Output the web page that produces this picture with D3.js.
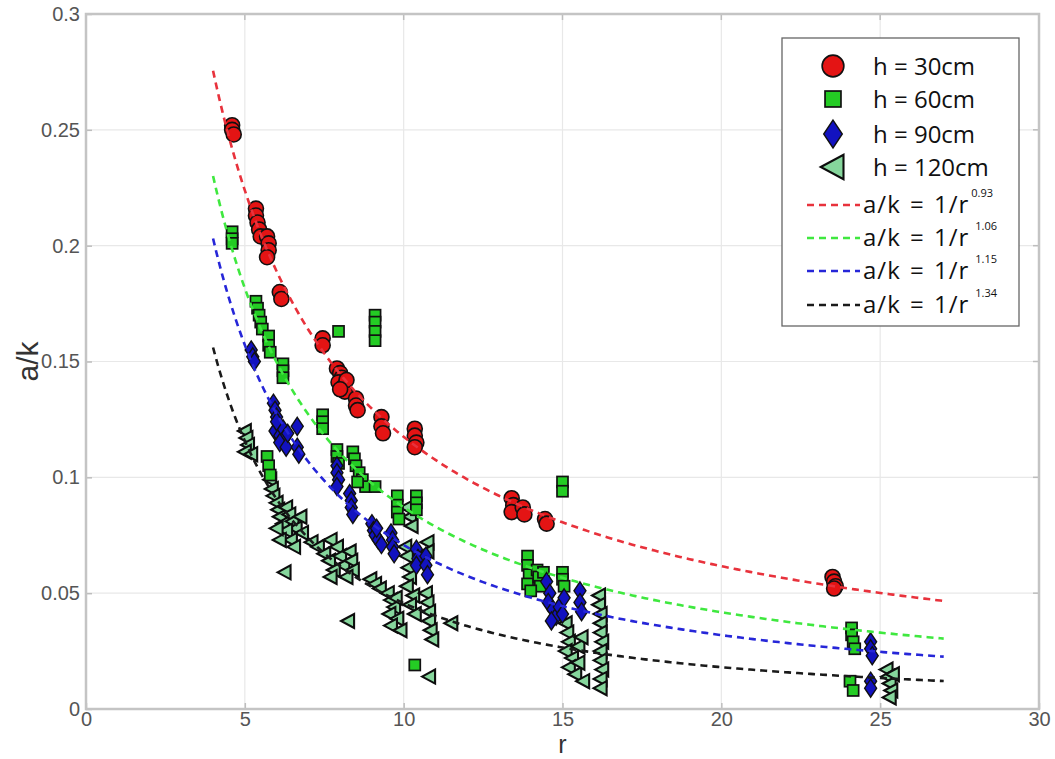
<!DOCTYPE html>
<html>
<head>
<meta charset="utf-8">
<script src="https://cdn.jsdelivr.net/npm/d3@7"></script>
<style>
  html, body { margin: 0; padding: 0; background: #fff; }
  svg { display: block; }
</style>
</head>
<body>
<svg id="chart" width="1055" height="759"></svg>
<script>
// Measured a/k against distance r, one list per height h: [r, a/k]
const h30 = [
  [4.6,0.252],[4.6,0.250],[4.65,0.248],
  [5.35,0.216],[5.35,0.213],[5.4,0.210],[5.45,0.207],[5.5,0.204],[5.7,0.204],[5.75,0.201],[5.75,0.198],[5.7,0.195],
  [6.1,0.180],[6.15,0.177],
  [7.45,0.160],[7.45,0.157],
  [7.9,0.147],[8.0,0.145],[8.05,0.143],[7.95,0.141],[8.1,0.139],[8.15,0.137],[8.2,0.142],[8.0,0.138],
  [8.5,0.134],[8.5,0.131],[8.55,0.129],
  [9.3,0.126],[9.3,0.122],[9.35,0.119],
  [10.35,0.121],[10.35,0.118],[10.4,0.115],[10.35,0.113],
  [13.4,0.091],[13.45,0.088],[13.4,0.085],[13.75,0.087],[13.8,0.084],[14.45,0.082],[14.5,0.080],
  [23.5,0.057],[23.55,0.055],[23.6,0.053],[23.55,0.052]
];
const h60 = [
  [4.6,0.206],[4.6,0.203],[4.6,0.201],
  [5.35,0.176],[5.4,0.173],[5.45,0.170],[5.5,0.167],[5.55,0.164],[5.75,0.161],[5.75,0.157],[5.8,0.154],
  [6.2,0.149],[6.2,0.146],[6.2,0.143],
  [5.7,0.109],[5.75,0.105],[5.8,0.101],
  [7.45,0.127],[7.45,0.124],[7.45,0.121],
  [7.95,0.163],
  [9.1,0.170],[9.1,0.167],[9.1,0.163],[9.1,0.159],
  [7.9,0.112],[7.9,0.109],[7.95,0.106],
  [8.4,0.111],[8.45,0.108],[8.5,0.105],[8.6,0.102],[8.7,0.099],[8.8,0.096],[8.55,0.098],
  [9.1,0.096],
  [9.8,0.092],[9.8,0.088],[9.8,0.085],[9.85,0.082],
  [10.4,0.092],[10.4,0.089],[10.4,0.086],
  [10.35,0.019],
  [15.0,0.098],[15.0,0.094],
  [13.9,0.066],[13.9,0.062],[13.95,0.058],[13.9,0.054],[14.2,0.060],[14.25,0.057],[14.3,0.053],[14.4,0.059],[14.0,0.051],
  [15.0,0.059],[15.0,0.056],[15.05,0.053],
  [24.1,0.035],[24.1,0.032],[24.15,0.029],[24.2,0.026],
  [24.05,0.012],[24.15,0.008]
];
const h90 = [
  [5.2,0.155],[5.25,0.152],[5.3,0.150],
  [5.9,0.132],[5.95,0.129],[6.0,0.126],[6.05,0.123],[5.95,0.120],[6.1,0.118],[6.2,0.121],[6.25,0.117],[6.1,0.115],[6.3,0.113],[6.0,0.124],[6.35,0.119],
  [6.65,0.122],[6.65,0.113],[6.7,0.110],
  [7.9,0.105],[7.9,0.102],[7.95,0.099],[7.9,0.096],
  [8.3,0.093],[8.35,0.090],[8.35,0.087],[8.4,0.084],
  [9.0,0.080],[9.05,0.077],[9.1,0.075],[9.2,0.073],[9.3,0.071],[9.15,0.078],
  [9.6,0.076],[9.65,0.073],[9.65,0.070],[9.7,0.067],
  [10.4,0.069],[10.45,0.065],[10.4,0.062],[10.7,0.066],[10.7,0.062],[10.75,0.058],
  [14.5,0.055],[14.6,0.050],[14.55,0.046],[14.7,0.043],[14.8,0.040],[14.9,0.044],[15.0,0.041],[15.05,0.048],[14.65,0.038],
  [15.55,0.051],[15.55,0.046],[15.6,0.042],
  [24.7,0.029],[24.7,0.026],[24.75,0.023],
  [24.7,0.012],[24.7,0.009]
];
const h120 = [
  [5.0,0.120],[5.05,0.117],[5.1,0.114],[5.0,0.111],[5.2,0.110],
  [5.8,0.099],[5.85,0.095],[5.9,0.092],[6.0,0.089],[6.05,0.086],[6.1,0.083],[6.2,0.080],[6.3,0.087],[6.4,0.084],[6.5,0.081],
  [6.6,0.078],[6.75,0.083],[6.8,0.076],[6.3,0.077],[6.45,0.073],[6.1,0.073],[6.0,0.078],[6.55,0.070],
  [6.25,0.059],
  [7.1,0.072],[7.3,0.070],[7.5,0.067],[7.7,0.073],[7.65,0.064],[7.9,0.070],[8.0,0.066],[8.1,0.062],[8.3,0.068],[8.35,0.064],
  [8.4,0.060],[7.8,0.060],[8.2,0.057],[7.7,0.057],
  [8.25,0.038],
  [8.95,0.056],[9.1,0.054],[9.25,0.052],
  [9.5,0.050],[9.6,0.047],[9.7,0.044],[9.55,0.041],[9.8,0.039],[9.6,0.036],[9.9,0.034],[9.75,0.048],
  [10.1,0.087],[10.2,0.083],[10.25,0.079],
  [10.05,0.070],[10.1,0.066],[10.15,0.061],[10.2,0.057],[10.1,0.053],[10.3,0.049],[10.2,0.045],[10.35,0.041],
  [10.75,0.072],[10.75,0.068],
  [10.7,0.050],[10.75,0.046],[10.8,0.042],[10.8,0.038],[10.85,0.034],[10.9,0.030],
  [10.8,0.014],
  [11.5,0.037],
  [15.1,0.037],[15.15,0.033],[15.2,0.029],[15.1,0.025],[15.3,0.022],[15.2,0.018],[15.4,0.015],[15.5,0.027],[15.6,0.031],[15.5,0.020],[15.65,0.012],
  [16.15,0.049],[16.15,0.045],[16.2,0.041],[16.2,0.037],[16.2,0.033],[16.25,0.029],[16.2,0.025],[16.2,0.021],[16.25,0.017],[16.2,0.013],[16.2,0.009],
  [25.2,0.017],[25.25,0.014],[25.3,0.011],[25.35,0.008],[25.4,0.015],[25.3,0.005]
];

// Power-law fits a/k = 1/r^p for each height, drawn over r in [4, 27]
const fitExponents = [0.93, 1.06, 1.15, 1.34];
const fitLabels = ["0.93", "1.06", "1.15", "1.34"];
const fitColors = ["#e8323c", "#3fe83f", "#2626d8", "#1a1a1a"];
const fitRange = [4, 27];

const seriesLabels = ["h = 30cm", "h = 60cm", "h = 90cm", "h = 120cm"];
const xTicks = [0, 5, 10, 15, 20, 25, 30];
const yTicks = [0, 0.05, 0.1, 0.15, 0.2, 0.25, 0.3];

const svg = d3.select("#chart");
const m = { left: 86, right: 1039, top: 14, bottom: 709 };
const x = d3.scaleLinear().domain([0, 30]).range([m.left, m.right]);
const y = d3.scaleLinear().domain([0, 0.3]).range([m.bottom, m.top]);

// grid
const grid = svg.append("g");
grid.selectAll("line.gx").data(xTicks.slice(1, -1)).join("line")
  .attr("x1", d => x(d)).attr("x2", d => x(d))
  .attr("y1", m.top).attr("y2", m.bottom)
  .attr("stroke", "#e8e8e8").attr("stroke-width", 1.2);
grid.selectAll("line.gy").data(yTicks.slice(1, -1)).join("line")
  .attr("x1", m.left).attr("x2", m.right)
  .attr("y1", d => y(d)).attr("y2", d => y(d))
  .attr("stroke", "#e8e8e8").attr("stroke-width", 1.2);

// axes
const fmtY = d => d === 0 ? "0" : d3.format("~g")(d);
const xAxis = d3.axisBottom(x).tickValues(xTicks).tickSize(-6).tickPadding(3).tickFormat(d3.format("d"));
const yAxis = d3.axisLeft(y).tickValues(yTicks).tickSize(-6).tickPadding(6).tickFormat(fmtY);
const gx = svg.append("g").attr("transform", `translate(0,${m.bottom})`).call(xAxis);
const gy = svg.append("g").attr("transform", `translate(${m.left},0)`).call(yAxis);
[gx, gy].forEach(g => {
  g.select(".domain").remove();
  g.selectAll(".tick line").attr("stroke", "#bdbdbd").attr("stroke-width", 1.5);
  g.selectAll(".tick text").attr("fill", "#555").attr("font-family", "Liberation Sans, Arial, sans-serif").attr("font-size", 20);
});
// mirrored ticks on top and right
svg.append("g").selectAll("line").data(xTicks).join("line")
  .attr("x1", d => x(d)).attr("x2", d => x(d)).attr("y1", m.top).attr("y2", m.top + 6)
  .attr("stroke", "#bdbdbd").attr("stroke-width", 1.5);
svg.append("g").selectAll("line").data(yTicks).join("line")
  .attr("x1", m.right).attr("x2", m.right - 6).attr("y1", d => y(d)).attr("y2", d => y(d))
  .attr("stroke", "#bdbdbd").attr("stroke-width", 1.5);
// box
svg.append("rect").attr("x", m.left).attr("y", m.top)
  .attr("width", m.right - m.left).attr("height", m.bottom - m.top)
  .attr("fill", "none").attr("stroke", "#c4c4c4").attr("stroke-width", 2.5);

// axis labels
svg.append("text").attr("x", x(15)).attr("y", 753).attr("text-anchor", "middle")
  .attr("font-family", "Liberation Sans, Arial, sans-serif").attr("font-size", 25).attr("fill", "#333").text("r");
svg.append("text").attr("transform", `translate(38,${y(0.15)}) rotate(-90)`).attr("text-anchor", "middle")
  .attr("font-family", "Liberation Sans, Arial, sans-serif").attr("font-size", 30).attr("fill", "#333").text("a/k");

// marker symbols
const markers = {
  circle: (g, s) => g.append("circle").attr("r", 7.5 * s)
    .attr("fill", "#e41414").attr("stroke", "#111").attr("stroke-width", 1.6),
  square: (g, s) => g.append("rect").attr("x", -5.5 * s).attr("y", -5.5 * s).attr("width", 11 * s).attr("height", 11 * s)
    .attr("fill", "#24cc24").attr("stroke", "#111").attr("stroke-width", 1.7),
  diamond: (g, s) => g.append("path").attr("d", `M0,${-9 * s}L${6 * s},0L0,${9 * s}L${-6 * s},0Z`)
    .attr("fill", "#1212c0").attr("stroke", "#111").attr("stroke-width", 1.4),
  triangle: (g, s) => g.append("path").attr("d", `M${-7 * s},0L${6 * s},${-7 * s}L${6 * s},${7 * s}Z`)
    .attr("fill", "#86d69c").attr("stroke", "#0d0d0d").attr("stroke-width", 2.1)
};

const series = [
  { data: h120, shape: "triangle" },
  { data: h60, shape: "square" },
  { data: h90, shape: "diamond" },
  { data: h30, shape: "circle" }
];
const plot = svg.append("g");
series.forEach(s => {
  plot.append("g").selectAll("g").data(s.data).join("g")
    .attr("transform", d => `translate(${x(d[0])},${y(d[1])})`)
    .each(function () { markers[s.shape](d3.select(this), 1); });
});

// fitted curves
const line = d3.line().x(d => x(d[0])).y(d => y(d[1]));
fitExponents.forEach((p, i) => {
  const pts = d3.range(fitRange[0], fitRange[1] + 0.001, 0.1).map(r => [r, Math.pow(r, -p)]);
  svg.append("path").datum(pts).attr("d", line)
    .attr("fill", "none").attr("stroke", fitColors[i]).attr("stroke-width", 2.6)
    .attr("stroke-dasharray", "7,5");
});

// legend
const lg = svg.append("g");
lg.append("rect").attr("x", 782).attr("y", 38).attr("width", 237).attr("height", 288)
  .attr("fill", "#fff").attr("stroke", "#666").attr("stroke-width", 1.3);
const shapes = ["circle", "square", "diamond", "triangle"];
const rowY = [66, 99, 134, 167, 205, 238, 271, 305];
const legendScale = { circle: 1.45, square: 1.45, diamond: 1.55, triangle: 1.75 };
shapes.forEach((sh, i) => {
  const g = lg.append("g").attr("transform", `translate(833,${rowY[i]})`);
  markers[sh](g, legendScale[sh]);
  lg.append("text").attr("x", 873).attr("y", rowY[i] + 9)
    .attr("font-family", "Open Sans, sans-serif").attr("font-size", 24).attr("fill", "#111")
    .text(seriesLabels[i]);
});
fitExponents.forEach((p, i) => {
  const yy = rowY[4 + i];
  lg.append("line").attr("x1", 807).attr("x2", 860).attr("y1", yy).attr("y2", yy)
    .attr("stroke", fitColors[i]).attr("stroke-width", 2.6).attr("stroke-dasharray", "7,5");
  const t = lg.append("text").attr("x", 863).attr("y", yy + 8)
    .attr("font-family", "Open Sans, sans-serif").attr("font-size", 24).attr("fill", "#111");
  t.append("tspan").attr("letter-spacing", 1).attr("word-spacing", 2).text("a/k = 1/r");
  t.append("tspan").attr("dx", i === 0 ? 2 : 6).attr("dy", -16).attr("font-size", 11).text(fitLabels[i]);
});
</script>
</body>
</html>
